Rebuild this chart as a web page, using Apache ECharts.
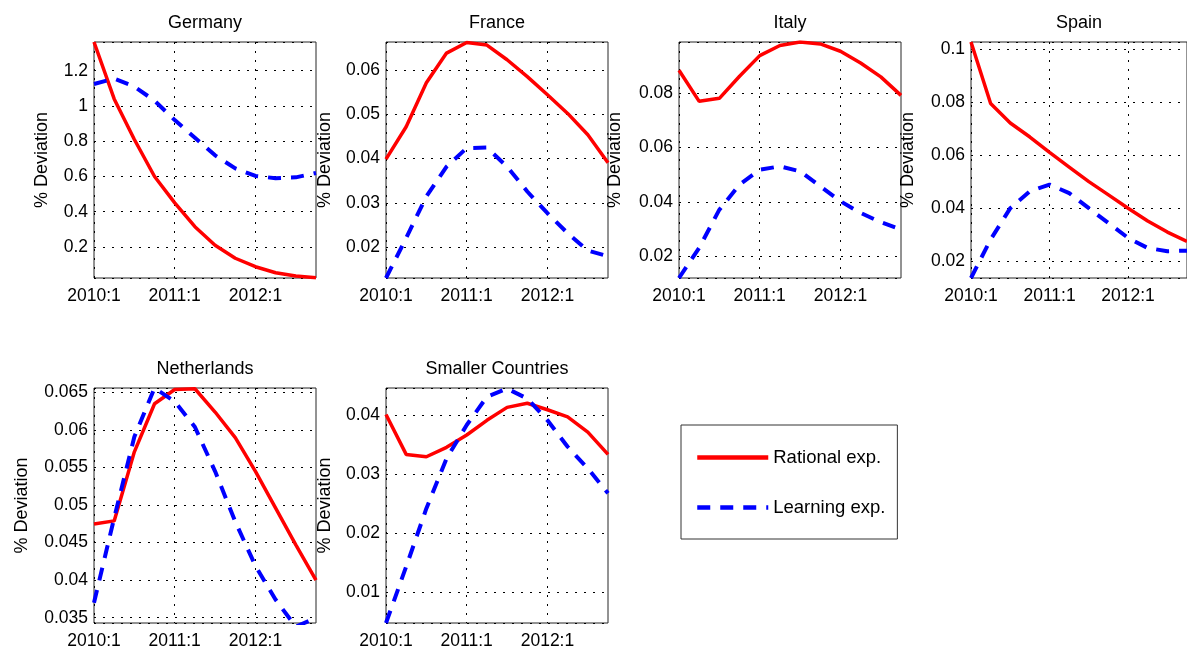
<!DOCTYPE html>
<html>
<head>
<meta charset="utf-8" />
<title>% Deviation - rational vs learning expectations</title>
<script src="https://cdn.jsdelivr.net/npm/echarts@6/dist/echarts.min.js"></script>
</head>
<body style="margin:0;padding:0;background:#fff;">
<div id="chart" style="width:1187px;height:650px;"></div>
<script>
// quarters on the x axis
const quarters = ['2010:1', '2010:2', '2010:3', '2010:4', '2011:1', '2011:2', '2011:3', '2011:4',
  '2012:1', '2012:2', '2012:3', '2012:4'];

const germanyRational = [1.363, 1.04, 0.81, 0.60, 0.45, 0.315, 0.21, 0.136, 0.088, 0.054, 0.035, 0.025];
const germanyLearning = [1.125, 1.155, 1.11, 1.03, 0.92, 0.82, 0.72, 0.646, 0.603, 0.59, 0.595, 0.62];

const franceRational = [0.0399, 0.0472, 0.0571, 0.0638, 0.0662, 0.0656, 0.0623, 0.0585, 0.0544, 0.0502, 0.0454, 0.0391];
const franceLearning = [0.0131, 0.0221, 0.0315, 0.0382, 0.0424, 0.0425, 0.0382, 0.0326, 0.0277, 0.0232, 0.0193, 0.0180];

const italyRational = [0.0883, 0.0769, 0.0780, 0.0861, 0.0937, 0.0974, 0.0987, 0.0980, 0.0953, 0.0910, 0.0859, 0.0791];
const italyLearning = [0.0120, 0.0231, 0.0371, 0.0463, 0.0518, 0.0530, 0.0512, 0.0457, 0.0402, 0.0359, 0.0325, 0.0298];

const spainRational = [0.1026, 0.0794, 0.0721, 0.0668, 0.0610, 0.0555, 0.0500, 0.0450, 0.0400, 0.0352, 0.0310, 0.0275];
const spainLearning = [0.0137, 0.0282, 0.0400, 0.0464, 0.0489, 0.0457, 0.0400, 0.0344, 0.0288, 0.0250, 0.0238, 0.0240];

const nlRational = [0.0475, 0.0479, 0.0571, 0.0635, 0.0654, 0.0655, 0.0624, 0.0590, 0.0545, 0.0496, 0.0447, 0.0400];
const nlLearning = [0.0370, 0.0483, 0.0591, 0.0656, 0.0638, 0.0604, 0.0545, 0.0478, 0.0419, 0.0374, 0.0338, 0.0350];

const smallRational = [0.0402, 0.0334, 0.0330, 0.0346, 0.0367, 0.0392, 0.0414, 0.0421, 0.0410, 0.0398, 0.0372, 0.0334];
const smallLearning = [0.0047, 0.0143, 0.0242, 0.0327, 0.0384, 0.0432, 0.0446, 0.0429, 0.0392, 0.0347, 0.0310, 0.0268];

// y limits + tick step of every panel
const panels = [
  { title: 'Germany', rational: germanyRational, learning: germanyLearning, yMin: 0.024, yMax: 1.363, step: 0.2 },
  { title: 'France', rational: franceRational, learning: franceLearning, yMin: 0.0131, yMax: 0.0663, step: 0.01 },
  { title: 'Italy', rational: italyRational, learning: italyLearning, yMin: 0.012, yMax: 0.0987, step: 0.02 },
  { title: 'Spain', rational: spainRational, learning: spainLearning, yMin: 0.0137, yMax: 0.1026, step: 0.02 },
  { title: 'Netherlands', rational: nlRational, learning: nlLearning, yMin: 0.0343, yMax: 0.0656, step: 0.005 },
  { title: 'Smaller Countries', rational: smallRational, learning: smallLearning, yMin: 0.0047, yMax: 0.0447, step: 0.01 }
];

// layout of the subplots
const colLeft = [94, 386, 679, 971];
const rowTop = [42, 388];
const plotW = 222, plotH = 236;
const nameGaps = [43, 52, 55, 54, 63, 52];

const font = 'Liberation Sans, Arial, sans-serif';
const dots = { color: '#000', width: 1, type: [2, 7] };

const chart = echarts.init(document.getElementById('chart'));

const grid = [], xAxis = [], yAxis = [], series = [];
panels.forEach(function (p, i) {
  grid.push({
    left: colLeft[i % 4], top: rowTop[Math.floor(i / 4)], width: plotW, height: plotH,
    show: true, borderColor: '#262626', borderWidth: 1, backgroundColor: 'transparent'
  });
  xAxis.push({
    type: 'category', gridIndex: i, data: quarters, boundaryGap: false,
    axisLine: { show: false }, axisTick: { show: false },
    axisLabel: { interval: 3, margin: 9, fontSize: 17.5, color: '#000', fontFamily: font },
    splitLine: { show: true, interval: 3, lineStyle: dots }
  });
  // top axis only carries the panel title
  xAxis.push({
    type: 'category', gridIndex: i, data: quarters, position: 'top', boundaryGap: false,
    axisLine: { show: false }, axisTick: { show: false }, axisLabel: { show: false }, splitLine: { show: false },
    name: p.title, nameLocation: 'middle', nameGap: 10,
    nameTextStyle: { fontSize: 18, color: '#000', fontFamily: font }
  });
  yAxis.push({
    type: 'value', gridIndex: i, min: p.yMin, max: p.yMax,
    minInterval: p.step, maxInterval: p.step,
    axisLine: { show: false }, axisTick: { show: false },
    axisLabel: { margin: 6, fontSize: 17.5, color: '#000', fontFamily: font, showMinLabel: false, showMaxLabel: false },
    splitLine: { show: true, lineStyle: dots },
    name: '% Deviation', nameLocation: 'middle', nameGap: nameGaps[i],
    nameTextStyle: { fontSize: 18, color: '#000', fontFamily: font }
  });
  series.push({
    name: 'Rational exp.', type: 'line', xAxisIndex: 2 * i, yAxisIndex: i,
    data: p.rational, symbol: 'none', lineStyle: { color: '#ff0000', width: 3.5 }, itemStyle: { color: '#ff0000' }
  });
  series.push({
    name: 'Learning exp.', type: 'line', xAxisIndex: 2 * i, yAxisIndex: i,
    data: p.learning, symbol: 'none', lineStyle: { color: '#0000ff', width: 4, type: [13, 10] }, itemStyle: { color: '#0000ff' }
  });
});

chart.setOption({
  animation: false,
  backgroundColor: '#fff',
  grid: grid,
  xAxis: xAxis,
  yAxis: yAxis,
  legend: {
    data: ['Rational exp.', 'Learning exp.'],
    orient: 'vertical', left: 681, top: 425,
    itemWidth: 71, itemHeight: 14, itemGap: 31,
    padding: [23, 12, 22, 14],
    borderColor: '#333', borderWidth: 1, selectedMode: false,
    itemStyle: { opacity: 0 },
    lineStyle: { width: 4.5 },
    textStyle: { fontSize: 18.5, color: '#000', fontFamily: font }
  },
  series: series
});
</script>
</body>
</html>
